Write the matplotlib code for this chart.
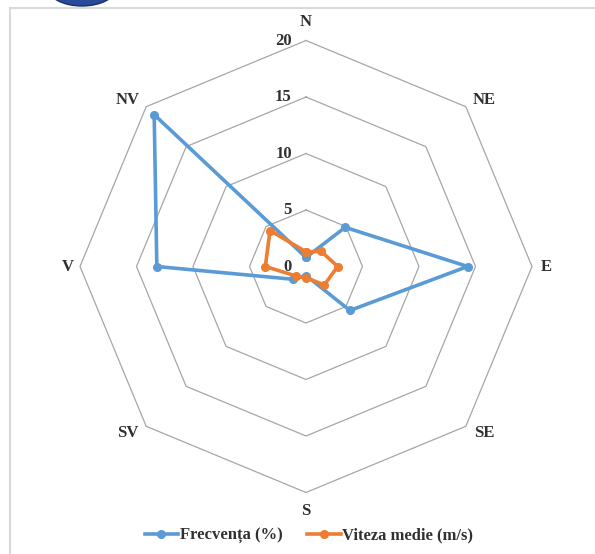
import numpy as np
import matplotlib
matplotlib.use("Agg")
import matplotlib.pyplot as plt
from matplotlib.lines import Line2D
from matplotlib.patches import Ellipse

# ---- data ----
directions = ['N', 'NE', 'E', 'SE', 'S', 'SV', 'V', 'NV']
frecventa = [0.8, 4.9, 14.3, 5.5, 0.8, 1.6, 13.2, 19.0]
viteza = [1.3, 1.9, 2.8, 2.3, 1.0, 1.2, 3.6, 4.5]
ring_values = [5, 10, 15, 20]
tick_labels = ['0', '5', '10', '15', '20']
series_names = ['Frecvența (%)', 'Viteza medie (m/s)']

BLUE = '#5B9BD5'
ORANGE = '#ED7D31'
GRID = '#A6A6A6'
FONT = 'Liberation Serif'
TXT = '#303030'

W, H = 595, 554
fig = plt.figure(figsize=(W / 100, H / 100), dpi=100)
# center in pixels and pixel radius of the 20 ring
cx, cy, R = 306.0, 287.5, 226.0  # cy measured from bottom (554-266.5)
scale = 20.0 / R
ax = fig.add_axes([0, 0, 1, 1])
ax.set_xlim(-cx * scale, (W - cx) * scale)
ax.set_ylim(-cy * scale, (H - cy) * scale)
ax.axis('off')

n = len(directions)
theta = np.arange(n) * 2 * np.pi / n


def to_xy(vals):
    v = np.asarray(vals, dtype=float)
    return v * np.sin(theta), v * np.cos(theta)


# octagonal grid
for r in ring_values:
    gx, gy = to_xy([r] * n)
    ax.plot(np.append(gx, gx[0]), np.append(gy, gy[0]), color=GRID, lw=0.9, zorder=1)

# tick labels
for lab, r in zip(tick_labels, [0] + ring_values):
    ax.text(-1.25, r, lab, ha='right', va='center', fontsize=12,
            family=FONT, fontweight='bold', color=TXT, zorder=2)

# direction labels (offset outside the outer ring)
lab_dx = [0, 15.75, 21.3, 15.75, 0, -15.75, -21.1, -15.75]
lab_dy = [21.6, 14.75, 0, -14.75, -21.6, -14.75, 0, 14.75]
for d, x, y in zip(directions, lab_dx, lab_dy):
    ax.text(x, y, d, ha='center', va='center',
            fontsize=12, family=FONT, fontweight='bold', color=TXT)

# series
fx, fy = to_xy(frecventa)
ax.plot(np.append(fx, fx[0]), np.append(fy, fy[0]), color=BLUE, lw=2.6,
        marker='o', ms=5.5, zorder=3, solid_joinstyle='round')
vx, vy = to_xy(viteza)
ax.plot(np.append(vx, vx[0]), np.append(vy, vy[0]), color=ORANGE, lw=2.6,
        marker='o', ms=5.5, zorder=4, solid_joinstyle='round')

# legend
handles = [Line2D([], [], color=BLUE, lw=2.6, marker='o', ms=5.5),
           Line2D([], [], color=ORANGE, lw=2.6, marker='o', ms=5.5)]
fig.legend(handles, series_names, loc='center', bbox_to_anchor=(309 / W, 1 - 536 / H),
           ncol=2, frameon=False, handlelength=2.0, handletextpad=0.1, columnspacing=1.5,
           prop={'family': FONT, 'weight': 'bold', 'size': 12}, labelcolor=TXT)

# frame of the chart area and cropped header
fig.add_artist(Line2D([10 / W, 1], [1 - 8 / H, 1 - 8 / H], transform=fig.transFigure,
                      color='#D9D9D9', lw=1.5))
fig.add_artist(Line2D([10 / W, 10 / W], [0, 1 - 8 / H], transform=fig.transFigure,
                      color='#D9D9D9', lw=1.5))
fig.add_artist(Ellipse((82 / W, 1 + 12 / H), 68 / W, 36 / H, transform=fig.transFigure,
                       facecolor='#2A4A9A', edgecolor='#1A2F6A', lw=1))

fig.savefig('out.png', dpi=100)
